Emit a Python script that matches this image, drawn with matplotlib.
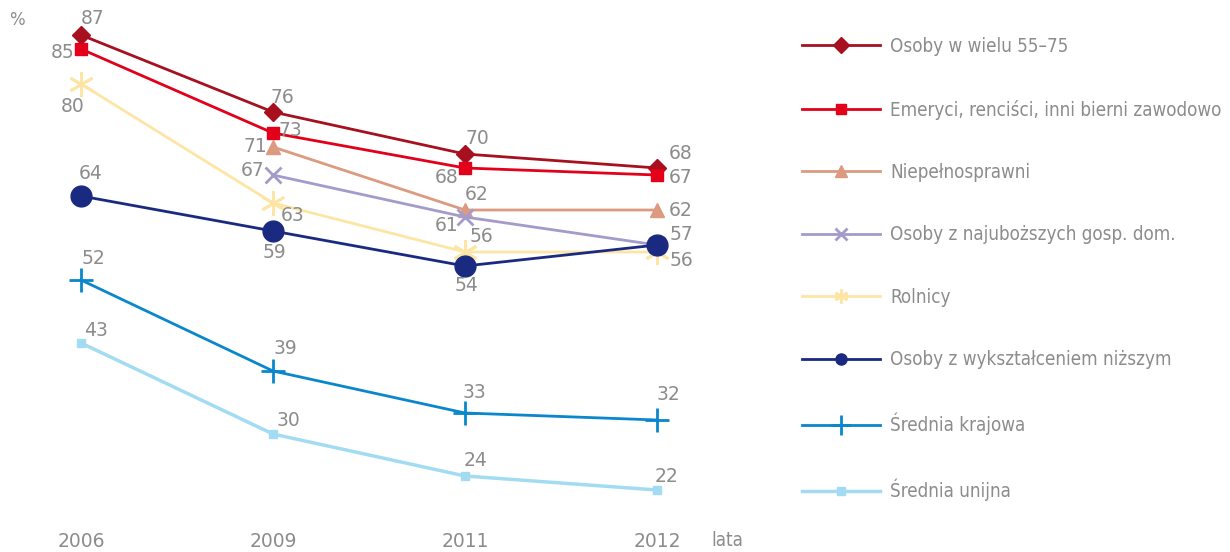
import matplotlib
matplotlib.use("Agg")
import matplotlib.pyplot as plt
from matplotlib.lines import Line2D
from matplotlib import font_manager
import numpy as np


# ------------------ DATA ------------------

years = ["2006", "2009", "2011", "2012"]

labels = [
    "Osoby w wielu 55\u201375",
    "Emeryci, renciści, inni bierni zawodowo",
    "Niepełnosprawni",
    "Osoby z najuboższych gosp. dom.",
    "Rolnicy",
    "Osoby z wykształceniem niższym",
    "Średnia krajowa",
    "Średnia unijna",
]

wiek_55_75 = [87, 76, 70, 68]
emeryci = [85, 73, 68, 67]
niepelnosprawni = [np.nan, 71, 62, 62]
najubozsi = [np.nan, 67, 61, 57]
rolnicy = [80, 63, 56, 56]
wyksztalcenie = [64, 59, 54, 57]
srednia_krajowa = [52, 39, 33, 32]
srednia_unijna = [43, 30, 24, 22]


# ------------------ STYLE ------------------

GRAY = "#8c8c8c"
NUM_FONT = ["DejaVu Sans"]

# condensed font for the legend if one is around
names = {f.name for f in font_manager.fontManager.ttflist}
stretches = {(f.name, f.stretch) for f in font_manager.fontManager.ttflist}
if "Liberation Sans Narrow" in names:
    LEG_PROP = {"family": ["Liberation Sans Narrow"], "size": 13.8}
elif any(n == "DejaVu Sans" and s != "normal" and s != 400 for n, s in stretches):
    LEG_PROP = {"family": ["DejaVu Sans"], "stretch": "condensed", "size": 13.5}
else:
    LEG_PROP = {"family": ["DejaVu Sans"], "size": 12.0}

# colour, marker, marker size, marker edge width, line width, legend marker size
styles = [
    ("#a6101f", "D", 9, 1, 2.0, 8),
    ("#e2001a", "s", 8, 1, 2.0, 7),
    ("#dc9a80", "^", 10, 1, 2.0, 8),
    ("#a39bcb", "x", 11, 2, 2.0, 9),
    ("#fde5a5", (6, 2, 0), 18, 2, 2.0, 10),
    ("#1a2a80", "o", 15, 1, 2.0, 8),
    ("#0a87cc", "+", 17, 2, 2.0, 15),
    ("#a3dcf2", "s", 6, 1, 2.5, 6),
]

# label offsets in pixels (None = no label)
offsets = [
    [(12, 16), (9, 14), (12, 15), (24, 14)],
    [(-18, -4), (17, 2), (-18, -10), (24, -3)],
    [None, (-18, 0), (12, 15), (24, -1)],
    [None, (-20, 4), (-18, -9), None],
    [(-8, -23), (20, -13), (16, 15), (24, -9)],
    [(10, 22), (1, -22), (1, -20), (24, 10)],
    [(12, 21), (12, 22), (9, 20), (11, 25)],
    [(15, 12), (15, 13), (11, 15), (9, 14)],
]


# ------------------ PLOTTING ------------------

def plot_chart():
    series = [wiek_55_75, emeryci, niepelnosprawni, najubozsi,
              rolnicy, wyksztalcenie, srednia_krajowa, srednia_unijna]

    fig = plt.figure(figsize=(12.3, 5.52), dpi=100)
    ax = fig.add_axes([0, 27 / 552, 760 / 1230, 525 / 552])
    x = np.arange(len(years))

    handles = []
    for values, style, offs in zip(series, styles, offsets):
        color, marker, ms, mew, lw, lms = style
        ax.plot(x, values, color=color, marker=marker, markersize=ms,
                markeredgewidth=mew, linewidth=lw, clip_on=False)
        for xi, v, off in zip(x, values, offs):
            if off is None or np.isnan(v):
                continue
            ax.annotate(str(int(v)), (xi, v), xytext=off,
                        textcoords="offset pixels", ha="center", va="center",
                        fontsize=13.5, color=GRAY, family=NUM_FONT)
        handles.append(Line2D([], [], color=color, marker=marker,
                              markersize=lms, markeredgewidth=mew,
                              linewidth=lw))

    ax.set_xlim(-81 / 192, (760 - 81) / 192)
    ax.set_ylim(17, 92)
    ax.set_xticks(x)
    ax.set_xticklabels(years, fontsize=13.5, color=GRAY, family=NUM_FONT)
    ax.tick_params(axis="x", length=0, pad=5)
    ax.set_yticks([])
    for side in ax.spines.values():
        side.set_visible(False)

    fig.text(17 / 1230, 1 - 20 / 552, "%", fontsize=12, color=GRAY,
             ha="center", va="center", family=NUM_FONT)
    fig.text(727 / 1230, 1 - 540 / 552, "lata", color=GRAY,
             ha="center", va="center",
             fontproperties=font_manager.FontProperties(**{**LEG_PROP, "size": 13.5}))

    leg = fig.legend(handles, labels, loc="upper left",
                     bbox_to_anchor=(802 / 1230, 1 - 37 / 552),
                     frameon=False, handlelength=4.16, handletextpad=0.53,
                     labelspacing=2.32, borderpad=0, borderaxespad=0,
                     prop=LEG_PROP)
    for t in leg.get_texts():
        t.set_color(GRAY)

    fig.savefig("out.png", dpi=100)


# ------------------ ENTRY POINT ------------------

if __name__ == "__main__":
    plot_chart()
